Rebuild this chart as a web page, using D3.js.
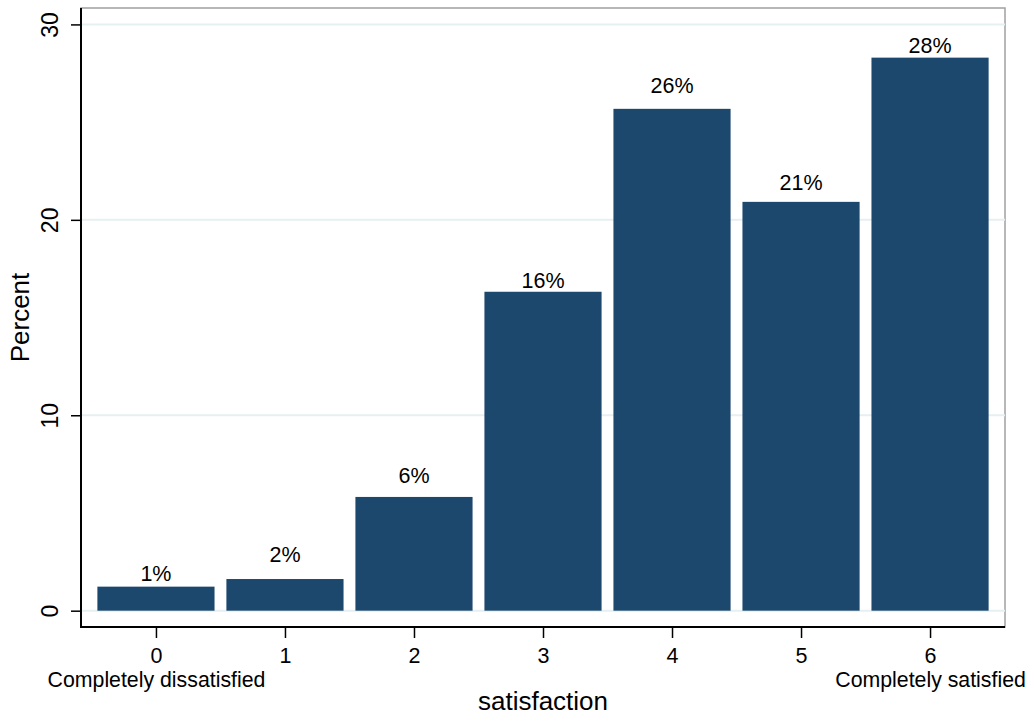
<!DOCTYPE html>
<html>
<head>
<meta charset="utf-8">
<script src="https://cdn.jsdelivr.net/npm/d3@7"></script>
<style>
  html, body { margin: 0; padding: 0; background: #fff; }
  svg { display: block; font-family: "Liberation Sans", Arial, Helvetica, sans-serif; }
</style>
</head>
<body>
<svg id="chart" width="1029" height="717"></svg>
<script>
// ---- data ----
const categories = [0, 1, 2, 3, 4, 5, 6];
const percents = [1.23, 1.62, 5.82, 16.32, 25.68, 20.92, 28.30];
const yTicks = [0, 10, 20, 30];
const xTickLabels = ["0", "1", "2", "3", "4", "5", "6"];
const endLabels = ["Completely dissatisfied", "", "", "", "", "", "Completely satisfied"];
const xTitle = "satisfaction";
const yTitle = "Percent";

// ---- layout ----
const mLeft = 81, mRight = 1005, mTop = 8, mBottom = 627;
const svg = d3.select("#chart");

const x = d3.scaleLinear().domain([-0.581, 6.581]).range([mLeft, mRight]);
const y = d3.scaleLinear().domain([-0.835, 30.84]).range([mBottom, mTop]);
const barW = 0.908;

// plot region border (top/right gray)
svg.append("rect").attr("x", mLeft).attr("y", mTop)
  .attr("width", mRight - mLeft).attr("height", mBottom - mTop)
  .attr("fill", "#fff").attr("stroke", "#a0a0a0").attr("stroke-width", 1.5);

// gridlines
svg.append("g").selectAll("line").data(yTicks).join("line")
  .attr("x1", mLeft).attr("x2", mRight)
  .attr("y1", d => y(d)).attr("y2", d => y(d))
  .attr("stroke", "#e6eff1").attr("stroke-width", 2);

// bars
svg.append("g").selectAll("rect").data(categories).join("rect")
  .attr("x", (d) => x(d - barW / 2))
  .attr("width", (d) => x(barW) - x(0))
  .attr("y", (d, i) => y(percents[i]))
  .attr("height", (d, i) => y(0) - y(percents[i]))
  .attr("fill", "#1d486e");

// value labels (positioned at rounded value as in source)
const fmt = v => d3.format(".0f")(v) + "%";
svg.append("g").selectAll("text").data(categories).join("text")
  .attr("x", d => x(d))
  .attr("y", (d, i) => y(Math.round(percents[i])) - 10)
  .attr("text-anchor", "middle")
  .attr("font-size", 21.5)
  .attr("fill", "#000")
  .text((d, i) => fmt(percents[i]));

// y axis
const yAxis = d3.axisLeft(y).tickValues(yTicks).tickSize(10).tickPadding(0).tickFormat(d3.format("d"));
const gy = svg.append("g").attr("transform", `translate(${mLeft},0)`).call(yAxis);
gy.select(".domain").attr("stroke", "#000").attr("stroke-width", 2).attr("d", `M0,${mTop}V${mBottom + 1}`);
gy.selectAll(".tick line").attr("stroke", "#000").attr("stroke-width", 1.5);
gy.selectAll(".tick text")
  .attr("transform", "translate(-23,0) rotate(-90)")
  .attr("x", 0).attr("y", 0).attr("dy", 0)
  .attr("text-anchor", "middle")
  .attr("font-size", 23)
  .attr("font-family", "Liberation Sans, Arial, sans-serif")
  .attr("fill", "#000");

// x axis
const xAxis = d3.axisBottom(x).tickValues(categories).tickSize(11).tickPadding(0)
  .tickFormat((d, i) => xTickLabels[i]);
const gx = svg.append("g").attr("transform", `translate(0,${mBottom})`).call(xAxis);
gx.select(".domain").attr("stroke", "#000").attr("stroke-width", 2).attr("d", `M${mLeft - 1},0H${mRight}`);
gx.selectAll(".tick line").attr("stroke", "#000").attr("stroke-width", 1.5);
gx.selectAll(".tick text")
  .attr("y", 36).attr("dy", 0)
  .attr("font-size", 21.5)
  .attr("font-family", "Liberation Sans, Arial, sans-serif")
  .attr("fill", "#000");

// end-of-scale labels below the first and last ticks
gx.selectAll(".tick").each(function (d, i) {
  const lbl = endLabels[i];
  if (!lbl) return;
  d3.select(this).append("text")
    .attr("x", 0).attr("y", 60)
    .attr("text-anchor", "middle")
    .attr("font-size", 21.3)
    .attr("font-family", "Liberation Sans, Arial, sans-serif")
    .attr("fill", "#000")
    .text(lbl);
});

// axis titles
svg.append("text")
  .attr("x", (mLeft + mRight) / 2).attr("y", 710)
  .attr("text-anchor", "middle").attr("font-size", 26).attr("fill", "#000")
  .text(xTitle);
svg.append("text")
  .attr("transform", `translate(29,${(mTop + mBottom) / 2}) rotate(-90)`)
  .attr("text-anchor", "middle").attr("font-size", 26).attr("fill", "#000")
  .text(yTitle);
</script>
</body>
</html>
